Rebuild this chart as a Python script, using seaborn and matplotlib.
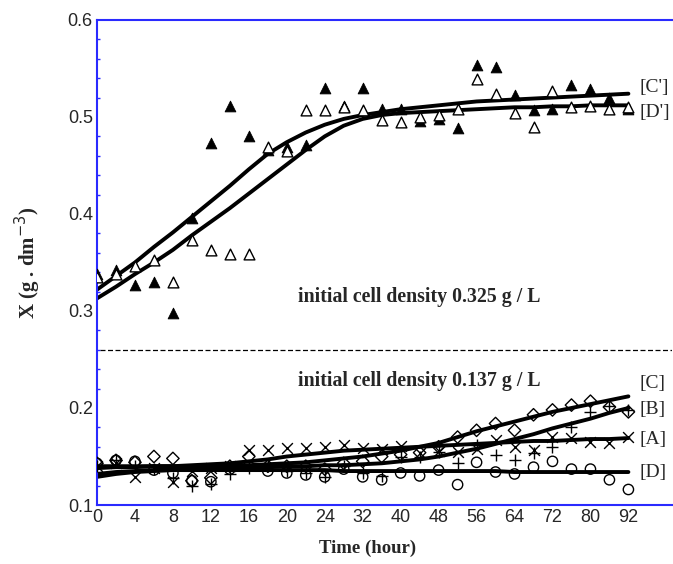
import numpy as np
import pandas as pd
import matplotlib
matplotlib.use("Agg")
import matplotlib.pyplot as plt
import seaborn as sns

sns.set_style("white")
plt.rcParams['font.family'] = ['Liberation Sans', 'DejaVu Sans']

# sampling times (h) and axis ticks (evenly spaced in the original chart)
time_h = [0, 2, 4, 6, 8, 10, 12, 14, 16, 18, 20, 22, 24, 28, 32, 36,
          40, 44, 48, 52, 56, 60, 64, 68, 72, 76, 80, 86, 92]
tick_hours = [0, 4, 8, 12, 16, 20, 24, 32, 40, 48, 56, 64, 72, 80, 92]

# initial cell density 0.325 g/L
c_prime = [0.338, 0.342, 0.327, 0.330, 0.298, 0.396, 0.473, 0.511, 0.480, 0.466,
           0.469, 0.471, 0.530, 0.511, 0.530, 0.508, 0.508, 0.496, 0.498, 0.489,
           0.554, 0.551, 0.523, 0.507, 0.508, 0.533, 0.529, 0.520, 0.508]
d_prime = [0.335, 0.338, 0.346, 0.353, 0.330, 0.373, 0.363, 0.359, 0.359, 0.469,
           0.465, 0.507, 0.507, 0.510, 0.507, 0.497, 0.495, 0.500, 0.502, 0.508,
           0.539, 0.524, 0.504, 0.490, 0.527, 0.510, 0.511, 0.508, 0.510]
c_prime_fit = [0.322, 0.336, 0.350, 0.366, 0.381, 0.397, 0.413, 0.429, 0.446, 0.462,
               0.474, 0.484, 0.492, 0.498, 0.502, 0.505, 0.508, 0.510, 0.512, 0.514,
               0.516, 0.517, 0.518, 0.519, 0.520, 0.521, 0.522, 0.523, 0.524]
d_prime_fit = [0.313, 0.325, 0.338, 0.350, 0.363, 0.378, 0.392, 0.406, 0.421, 0.436,
               0.451, 0.466, 0.480, 0.491, 0.498, 0.502, 0.504, 0.505, 0.506, 0.507,
               0.508, 0.509, 0.510, 0.510, 0.511, 0.511, 0.512, 0.512, 0.512]

# initial cell density 0.137 g/L
a_pts = [0.140, 0.143, 0.129, 0.138, 0.124, 0.135, 0.138, 0.140, 0.157, 0.157,
         0.159, 0.159, 0.160, 0.162, 0.159, 0.158, 0.161, 0.154, 0.156, 0.155,
         0.158, 0.167, 0.160, 0.157, 0.170, 0.169, 0.165, 0.164, 0.170]
b_pts = [0.140, 0.146, 0.140, 0.137, 0.128, 0.120, 0.122, 0.132, 0.138, 0.140,
         0.135, 0.133, 0.129, 0.140, 0.133, 0.130, 0.150, 0.150, 0.155, 0.143,
         0.162, 0.152, 0.146, 0.154, 0.160, 0.180, 0.196, 0.202, 0.198]
c_pts = [0.143, 0.146, 0.144, 0.150, 0.148, 0.125, 0.128, 0.140, 0.150, 0.140,
         0.140, 0.140, 0.137, 0.143, 0.145, 0.150, 0.152, 0.154, 0.160, 0.170,
         0.177, 0.184, 0.177, 0.193, 0.198, 0.203, 0.207, 0.201, 0.196]
d_pts = [0.143, 0.146, 0.145, 0.136, 0.133, 0.125, 0.124, 0.137, 0.140, 0.135,
         0.133, 0.131, 0.129, 0.137, 0.129, 0.126, 0.133, 0.130, 0.136, 0.121,
         0.144, 0.134, 0.132, 0.139, 0.145, 0.137, 0.137, 0.126, 0.116]
a_fit = [0.138, 0.139, 0.139, 0.140, 0.140, 0.141, 0.142, 0.143, 0.145, 0.147,
         0.150, 0.152, 0.154, 0.156, 0.157, 0.158, 0.159, 0.160, 0.161, 0.162,
         0.163, 0.164, 0.165, 0.166, 0.166, 0.167, 0.168, 0.168, 0.169]
b_fit = [0.132, 0.134, 0.135, 0.136, 0.137, 0.137, 0.138, 0.138, 0.139, 0.139,
         0.140, 0.140, 0.141, 0.141, 0.142, 0.143, 0.145, 0.147, 0.150, 0.154,
         0.158, 0.163, 0.168, 0.173, 0.179, 0.184, 0.189, 0.195, 0.200]
c_fit = [0.140, 0.140, 0.140, 0.140, 0.140, 0.140, 0.140, 0.141, 0.141, 0.142,
         0.143, 0.144, 0.146, 0.148, 0.150, 0.153, 0.156, 0.160, 0.164, 0.170,
         0.176, 0.181, 0.186, 0.191, 0.196, 0.200, 0.204, 0.208, 0.212]
d_fit = [0.129, 0.132, 0.134, 0.135, 0.136, 0.136, 0.136, 0.136, 0.136, 0.136,
         0.136, 0.136, 0.136, 0.135, 0.135, 0.135, 0.135, 0.135, 0.135, 0.135,
         0.135, 0.135, 0.134, 0.134, 0.134, 0.134, 0.134, 0.134, 0.134]

# x axis is evenly spaced per tick, not linear in time
pos = np.interp(time_h, tick_hours, np.arange(len(tick_hours)))

df = pd.DataFrame({'pos': pos, "C'": c_prime, "D'": d_prime,
                   "C'fit": c_prime_fit, "D'fit": d_prime_fit,
                   'A': a_pts, 'B': b_pts, 'C': c_pts, 'D': d_pts,
                   'Afit': a_fit, 'Bfit': b_fit, 'Cfit': c_fit, 'Dfit': d_fit})

fig = plt.figure(figsize=(6.73, 5.64), dpi=100)
ax = fig.add_axes([0.1441, 0.1046, 0.8545, 0.8600])

# fitted curves
for col in ["C'fit", "D'fit", 'Afit', 'Bfit', 'Cfit', 'Dfit']:
    sns.lineplot(data=df, x='pos', y=col, ax=ax, color='black', linewidth=2.8, zorder=2)

# measured points
sns.scatterplot(data=df, x='pos', y="C'", ax=ax, marker='^', s=60,
                color='black', edgecolor='black', zorder=3)
sns.scatterplot(data=df, x='pos', y="D'", ax=ax, marker='^', s=60,
                facecolor='white', edgecolor='black', linewidth=1, zorder=3)
sns.scatterplot(data=df, x='pos', y='D', ax=ax, marker='o', s=55,
                facecolor='none', edgecolor='black', linewidth=1, zorder=3)
sns.scatterplot(data=df, x='pos', y='C', ax=ax, marker='D', s=40,
                facecolor='none', edgecolor='black', linewidth=1, zorder=3)
sns.scatterplot(data=df, x='pos', y='A', ax=ax, marker='x', s=60,
                color='black', linewidth=1, zorder=3)
sns.scatterplot(data=df, x='pos', y='B', ax=ax, marker='+', s=70,
                color='black', linewidth=1, zorder=3)

# separator between the two initial densities
ax.axhline(0.26, xmin=0.005, xmax=1, color='black', linestyle=(0, (4, 2)), linewidth=0.9)

serif = ['Liberation Serif', 'DejaVu Serif']
ax.text(5.3, 0.314, 'initial cell density 0.325 g / L', fontsize=14.3, fontweight='bold',
        family=serif, va='center', ha='left')
ax.text(5.3, 0.228, 'initial cell density 0.137 g / L', fontsize=14.3, fontweight='bold',
        family=serif, va='center', ha='left')
for label, yv in [("[C']", 0.530), ("[D']", 0.505), ('[C]', 0.225),
                  ('[B]', 0.198), ('[A]', 0.168), ('[D]', 0.134)]:
    ax.text(14.3, yv, label, fontsize=14, family=serif, va='center', ha='left')

ax.set_xlim(0, 15.15)
ax.set_ylim(0.1, 0.6)
ax.set_xticks(np.arange(len(tick_hours)))
ax.set_xticklabels([str(t) for t in tick_hours])
ax.set_yticks([0.1, 0.2, 0.3, 0.4, 0.5, 0.6])
ax.set_yticklabels(['0.1', '0.2', '0.3', '0.4', '0.5', '0.6'])
ax.set_yticks(np.arange(0.1, 0.6, 0.02), minor=True)
ax.tick_params(axis='x', length=0, pad=3, labelsize=13)
ax.tick_params(axis='y', which='major', direction='in', length=4, width=1,
               color='#2a2aff', labelsize=13, pad=3)
ax.tick_params(axis='y', which='minor', direction='in', length=2.5, width=1, color='#2a2aff', left=True)

ax.set_xlabel('Time (hour)', fontsize=13.5, fontweight='bold', family=serif)
ax.xaxis.set_label_coords(0.47, -0.072)
ax.set_ylabel('X (g . dm$^{-3}$)', fontsize=15, fontweight='bold', family=serif, labelpad=18)

for side in ['left', 'top', 'bottom']:
    ax.spines[side].set_color('#2a2aff')
    ax.spines[side].set_linewidth(1.5)
ax.spines['right'].set_visible(False)

fig.savefig('out.png', dpi=100)
